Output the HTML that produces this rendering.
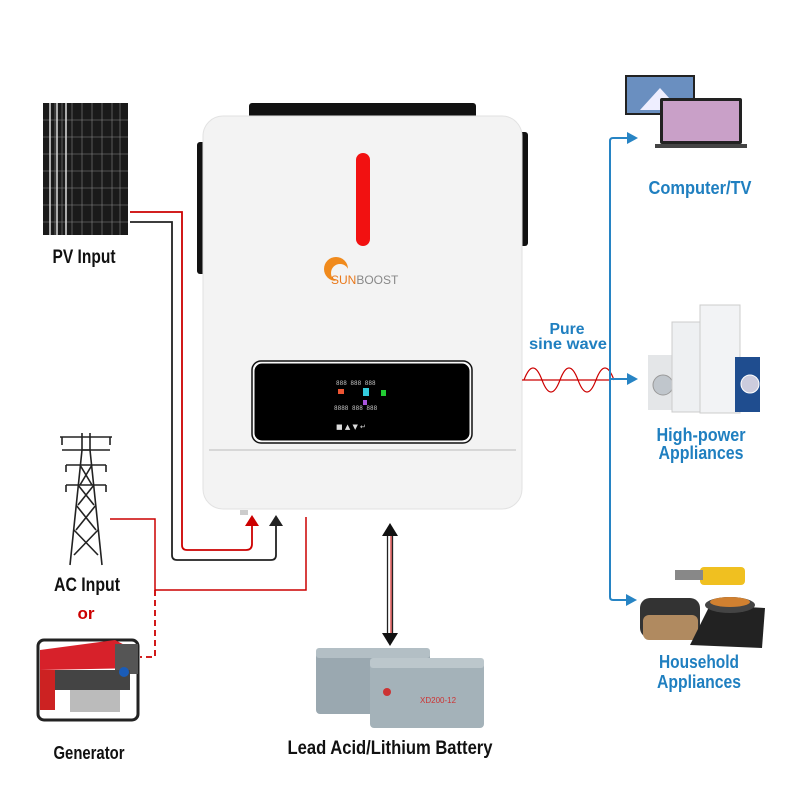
<!DOCTYPE html>
<html><head><meta charset="utf-8"><style>
html,body{margin:0;padding:0;background:#fff;}
svg{display:block}
.t{font-family:"Liberation Sans Narrow","Liberation Sans",sans-serif;font-weight:bold;text-anchor:middle;}
</style></head><body>
<svg width="800" height="800" viewBox="0 0 800 800" xmlns="http://www.w3.org/2000/svg">
<rect width="800" height="800" fill="#fff"/>
<!-- solar panels -->
<g>
<rect x="43" y="103" width="85" height="132" fill="#1a1a1a"/>
<g stroke="#888" stroke-width="0.6">
<line x1="55" y1="103" x2="55" y2="235"/><line x1="62" y1="103" x2="62" y2="235"/><line x1="72" y1="103" x2="72" y2="235"/>
<line x1="82" y1="103" x2="82" y2="235"/><line x1="92" y1="103" x2="92" y2="235"/><line x1="102" y1="103" x2="102" y2="235"/><line x1="112" y1="103" x2="112" y2="235"/><line x1="120" y1="103" x2="120" y2="235"/>
<line x1="43" y1="120" x2="128" y2="120"/><line x1="43" y1="137" x2="128" y2="137"/><line x1="43" y1="154" x2="128" y2="154"/><line x1="43" y1="171" x2="128" y2="171"/><line x1="43" y1="188" x2="128" y2="188"/><line x1="43" y1="205" x2="128" y2="205"/><line x1="43" y1="222" x2="128" y2="222"/>
</g>
<g stroke="#ddd" stroke-width="1.5"><line x1="50" y1="103" x2="50" y2="235"/><line x1="57" y1="103" x2="57" y2="235"/><line x1="66" y1="103" x2="66" y2="235"/></g>
</g>
<text class="t" x="84" y="263" font-size="19" fill="#111" textLength="63" lengthAdjust="spacingAndGlyphs">PV Input</text>

<!-- inverter -->
<rect x="249" y="103" width="227" height="18" rx="3" fill="#111"/>
<rect x="197" y="142" width="10" height="132" rx="3" fill="#111"/>
<rect x="518" y="132" width="10" height="114" rx="3" fill="#111"/>
<rect x="203" y="116" width="319" height="393" rx="20" fill="#f3f3f3" stroke="#e2e2e2"/>
<rect x="356" y="153" width="14" height="93" rx="7" fill="#f21111"/>
<circle cx="336" cy="269" r="12" fill="#f08a1c"/>
<circle cx="340" cy="273" r="9" fill="#f3f3f3"/>
<text x="331" y="284" font-family="Liberation Sans,sans-serif" font-size="12" fill="#e9781a">SUN<tspan fill="#888">BOOST</tspan></text>
<rect x="254" y="363" width="216" height="78" rx="8" fill="#000" stroke="#fff" stroke-width="1"/>
<rect x="252" y="361" width="220" height="82" rx="9" fill="none" stroke="#111" stroke-width="1.5"/>
<g font-family="Liberation Mono,monospace" font-size="6" fill="#ccc"><text x="336" y="385">888  888  888</text><text x="334" y="410">8888 888  888</text></g>
<rect x="363" y="388" width="6" height="8" fill="#3cd"/><rect x="381" y="390" width="5" height="6" fill="#2c3"/><rect x="363" y="400" width="4" height="5" fill="#a5d"/><rect x="338" y="389" width="6" height="5" fill="#e53"/>
<g fill="#ddd" font-size="7" font-family="DejaVu Sans,sans-serif"><text x="336" y="429">■ ▲ ▼ ↵</text></g>
<line x1="209" y1="450" x2="516" y2="450" stroke="#bbb"/>
<rect x="240" y="510" width="8" height="5" fill="#ccc"/>

<!-- PV wires -->
<path d="M130 212 H182 V545 Q182 550 187 550 H246 Q252 550 252 544 V524" fill="none" stroke="#c00" stroke-width="1.8"/>
<polygon points="252,515 245,526 259,526" fill="#c00"/>
<path d="M130 222 H172 V555 Q172 560 177 560 H271 Q276 560 276 555 V524" fill="none" stroke="#222" stroke-width="1.8"/>
<polygon points="276,515 269,526 283,526" fill="#222"/>

<!-- tower -->
<g stroke="#222" stroke-width="1.6" fill="none">
<path d="M70 565 L82 450 L90 450 L102 565"/>
<path d="M60 437 H112 M62 450 H110 M66 465 H106 M66 485 H106 M82 433 V450 M90 433 V450"/>
<path d="M80 465 L92 485 M92 465 L80 485 M78 485 L94 505 M94 485 L78 505 M76 505 L96 530 M96 505 L76 530 M74 530 L98 555 M98 530 L74 555"/>
<path d="M62 437 V445 M110 437 V445 M66 465 V472 M106 465 V472 M66 485 V492 M106 485 V492"/>
</g>
<text class="t" x="87" y="591" font-size="19" fill="#111" textLength="66" lengthAdjust="spacingAndGlyphs">AC Input</text>
<text class="t" x="86" y="619" font-size="17" fill="#c00">or</text>

<!-- AC wires -->
<path d="M110 519 H155 V590 H306 V517" fill="none" stroke="#c00" stroke-width="1.5"/>
<path d="M155 590 V657 H140" fill="none" stroke="#c00" stroke-width="1.8" stroke-dasharray="6,4"/>

<!-- generator -->
<g>
<rect x="38" y="640" width="100" height="80" rx="6" fill="none" stroke="#222" stroke-width="3"/>
<path d="M40 650 L115 640 L138 652 L138 668 L40 670 Z" fill="#d7212a"/>
<rect x="115" y="644" width="23" height="30" fill="#555"/>
<rect x="55" y="670" width="75" height="20" fill="#444"/>
<rect x="70" y="690" width="50" height="22" fill="#bbb"/>
<rect x="40" y="670" width="15" height="40" fill="#c22"/>
<circle cx="124" cy="672" r="5" fill="#1a5cb8"/>
</g>
<text class="t" x="89" y="759" font-size="18" fill="#111" textLength="71" lengthAdjust="spacingAndGlyphs">Generator</text>

<!-- battery arrow -->
<line x1="387.5" y1="533" x2="387.5" y2="640" stroke="#222" stroke-width="1.3"/>
<line x1="391" y1="533" x2="391" y2="640" stroke="#c00" stroke-width="1"/>
<line x1="392.5" y1="533" x2="392.5" y2="640" stroke="#222" stroke-width="1.3"/>
<polygon points="390,523 382,536 398,536" fill="#111"/>
<polygon points="390,646 382,633 398,633" fill="#111"/>

<!-- batteries -->
<rect x="316" y="652" width="114" height="62" rx="4" fill="#9aa8b0"/>
<rect x="316" y="648" width="114" height="10" rx="3" fill="#b3bfc5"/>
<rect x="370" y="662" width="114" height="66" rx="4" fill="#a4b2b9"/>
<rect x="370" y="658" width="114" height="10" rx="3" fill="#bcc7cc"/>
<circle cx="387" cy="692" r="4" fill="#c33"/>
<text x="420" y="703" font-family="Liberation Sans,sans-serif" font-size="8" fill="#c33">XD200-12</text>
<text class="t" x="390" y="754" font-size="19" fill="#111" textLength="205" lengthAdjust="spacingAndGlyphs">Lead Acid/Lithium Battery</text>

<!-- sine wave -->
<line x1="522" y1="380" x2="610" y2="380" stroke="#c00" stroke-width="1.2"/>
<path d="M524 380 Q533 356 542 380 T560 380 T578 380 T596 380 T614 380" fill="none" stroke="#c00" stroke-width="1.2"/>
<text class="t" x="567" y="334" font-size="16" fill="#1f7fc0" textLength="35" lengthAdjust="spacingAndGlyphs">Pure</text>
<text class="t" x="568" y="349" font-size="16" fill="#1f7fc0" textLength="78" lengthAdjust="spacingAndGlyphs">sine wave</text>

<!-- blue connectors -->
<path d="M630 138 H613 Q610 138 610 141 V597 Q610 600 613 600 H630" fill="none" stroke="#2784c4" stroke-width="2"/>
<line x1="610" y1="379" x2="630" y2="379" stroke="#2784c4" stroke-width="2"/>
<polygon points="638,138 627,132 627,144" fill="#2784c4"/>
<polygon points="638,379 627,373 627,385" fill="#2784c4"/>
<polygon points="637,600 626,594 626,606" fill="#2784c4"/>

<!-- TV / laptop -->
<rect x="625" y="75" width="70" height="40" fill="#222"/>
<rect x="627" y="77" width="66" height="36" fill="#6a8fc0"/>
<polygon points="640,110 660,88 680,110" fill="#eef"/>
<rect x="660" y="98" width="82" height="46" rx="2" fill="#222"/>
<rect x="663" y="101" width="76" height="40" fill="#c9a0c8"/>
<rect x="655" y="144" width="92" height="4" fill="#444"/>
<text class="t" x="700" y="194" font-size="18" fill="#1f7fc0" textLength="103" lengthAdjust="spacingAndGlyphs">Computer/TV</text>

<!-- appliances -->
<rect x="648" y="355" width="30" height="55" fill="#e4e6e8"/>
<circle cx="663" cy="385" r="10" fill="#c0c6cc" stroke="#999"/>
<rect x="672" y="322" width="30" height="90" fill="#eef0f2" stroke="#ccc"/>
<rect x="700" y="305" width="40" height="108" fill="#f2f3f5" stroke="#ccc"/>
<rect x="735" y="357" width="25" height="55" fill="#1f4d8f"/>
<circle cx="750" cy="384" r="9" fill="#ccd" stroke="#fff"/>
<text class="t" x="701" y="441" font-size="18" fill="#1f7fc0" textLength="89" lengthAdjust="spacingAndGlyphs">High-power</text>
<text class="t" x="701" y="459" font-size="18" fill="#1f7fc0" textLength="85" lengthAdjust="spacingAndGlyphs">Appliances</text>

<!-- household -->
<rect x="640" y="598" width="60" height="40" rx="10" fill="#333"/>
<rect x="643" y="615" width="55" height="25" rx="6" fill="#b08a60"/>
<polygon points="690,645 710,605 765,608 762,648" fill="#222"/>
<ellipse cx="730" cy="605" rx="25" ry="8" fill="#444"/>
<ellipse cx="730" cy="602" rx="20" ry="5" fill="#d08030"/>
<rect x="700" y="567" width="45" height="18" rx="4" fill="#f0c020"/>
<rect x="675" y="570" width="28" height="10" fill="#888"/>
<text class="t" x="699" y="668" font-size="18" fill="#1f7fc0" textLength="80" lengthAdjust="spacingAndGlyphs">Household</text>
<text class="t" x="699" y="688" font-size="18" fill="#1f7fc0" textLength="84" lengthAdjust="spacingAndGlyphs">Appliances</text>
</svg>
</body></html>
